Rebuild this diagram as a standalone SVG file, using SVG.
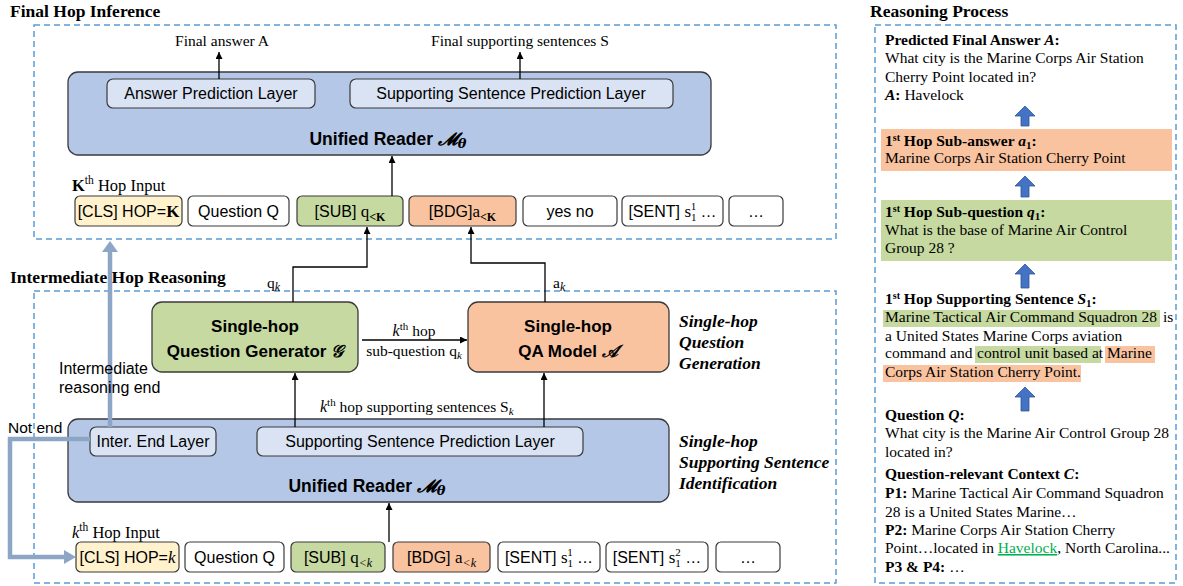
<svg xmlns="http://www.w3.org/2000/svg" width="1183" height="586" viewBox="0 0 1183 586">
<defs>
<style>
.sans{font-family:"Liberation Sans",Arial,sans-serif;fill:#000}
.serif{font-family:"Liberation Serif","Times New Roman",serif;fill:#000}
.title{font-family:"Liberation Serif","Times New Roman",serif;font-weight:bold;font-size:17.5px}
.dash{fill:none;stroke:#5B9BD5;stroke-width:1.5;stroke-dasharray:6 4}
.reader{fill:#B4C7E7;stroke:#3A3A3A;stroke-width:1.3}
.layer{fill:#DAE3F3;stroke:#3A3A3A;stroke-width:1.2}
.tok{stroke:#3A3A3A;stroke-width:1.2}
.white{fill:#FFFFFF}
.yellow{fill:#FFF2CC}
.green{fill:#C5D9A0}
.orange{fill:#F9C3A0}
.conn{fill:none;stroke:#000;stroke-width:1.3}
.thick{fill:none;stroke:#8EA6C6;stroke-width:4.5}
.barrow{fill:#4472C4;stroke:#2F5597;stroke-width:0.8}
.tok-t{font-family:"Liberation Sans",Arial,sans-serif;font-size:16px;text-anchor:middle}
.lay-t{font-family:"Liberation Sans",Arial,sans-serif;font-size:16px;text-anchor:middle}
.rd-t{font-family:"Liberation Sans",Arial,sans-serif;font-size:17.5px;font-weight:bold;text-anchor:middle}
.big-t{font-family:"Liberation Sans",Arial,sans-serif;font-size:17px;font-weight:bold;text-anchor:middle}
.math{font-family:"DejaVu Serif","Liberation Serif",serif;font-style:italic;font-weight:bold}
.bi{font-family:"Liberation Serif","Times New Roman",serif;font-style:italic;font-weight:bold;font-size:17.5px}
.rp{font-family:"Liberation Serif","Times New Roman",serif;font-size:15.5px}
.lbl{font-family:"Liberation Serif","Times New Roman",serif;font-size:15.5px}
</style>
<marker id="ah" viewBox="0 0 10 10" refX="10" refY="5" markerWidth="7" markerHeight="7" markerUnits="userSpaceOnUse" orient="auto">
<path d="M0,0 L10,5 L0,10 z" fill="#000"/>
</marker>
</defs>
<rect width="1183" height="586" fill="#FFFFFF"/>

<!-- Titles -->
<text class="title" x="10" y="17">Final Hop Inference</text>
<text class="title" x="10" y="283">Intermediate Hop Reasoning</text>
<text class="title" x="870" y="17">Reasoning Process</text>

<!-- Dashed frames -->
<rect class="dash" x="34" y="25" width="802" height="214"/>
<rect class="dash" x="34" y="291" width="802" height="292"/>
<rect class="dash" x="875" y="25" width="301" height="558"/>

<!-- ===== Final hop ===== -->
<g id="final-reader">
<rect class="reader" x="68" y="72" width="643" height="83" rx="10"/>
<text class="rd-t" x="388" y="145">Unified Reader <tspan class="math">𝓜</tspan><tspan class="math" font-size="13" dy="3">θ</tspan></text>
</g>
<g id="answer-layer">
<rect class="layer" x="107" y="79" width="208" height="29" rx="6"/>
<text class="lay-t" x="211" y="99">Answer Prediction Layer</text>
</g>
<g id="final-ss-layer">
<rect class="layer" x="350" y="79" width="323" height="29" rx="6"/>
<text class="lay-t" x="511" y="99">Supporting Sentence Prediction Layer</text>
</g>
<text class="lbl" x="222" y="46" text-anchor="middle">Final answer A</text>
<text class="lbl" x="520" y="46" text-anchor="middle">Final supporting sentences S</text>
<text class="serif" font-size="16.5" x="72" y="191"><tspan font-weight="bold">K</tspan><tspan font-size="11.5" dy="-7">th</tspan><tspan dy="7"> Hop Input</tspan></text>

<g id="K-cls"><rect class="tok yellow" x="75" y="196" width="107" height="30" rx="5"/>
<text class="tok-t" x="128.5" y="217">[CLS] HOP=<tspan class="serif" font-weight="bold" font-size="17">K</tspan></text></g>
<g id="K-question"><rect class="tok white" x="188" y="196" width="101" height="30" rx="5"/>
<text class="tok-t" x="238.5" y="217">Question Q</text></g>
<g id="K-sub"><rect class="tok green" x="297" y="196" width="106" height="30" rx="5"/>
<text class="tok-t" x="350" y="217">[SUB] <tspan class="serif" font-size="17">q</tspan><tspan class="serif" font-weight="bold" font-size="12" dy="4">&lt;K</tspan></text></g>
<g id="K-bdg"><rect class="tok orange" x="409" y="196" width="107" height="30" rx="5"/>
<text class="tok-t" x="462.5" y="217">[BDG]<tspan class="serif" font-size="17">a</tspan><tspan class="serif" font-weight="bold" font-size="12" dy="4">&lt;K</tspan></text></g>
<g id="K-yesno"><rect class="tok white" x="523" y="196" width="94" height="30" rx="5"/>
<text class="tok-t" x="570" y="217">yes no</text></g>
<g id="K-sent"><rect class="tok white" x="622" y="196" width="101" height="30" rx="5"/>
<text class="tok-t" x="672.5" y="217">[SENT] <tspan class="serif" font-size="17">s</tspan><tspan class="serif" font-size="11" dy="4">1</tspan><tspan class="serif" font-size="11" dx="-5.5" dy="-11">1</tspan><tspan dy="7"> …</tspan></text></g>
<g id="K-more"><rect class="tok white" x="729" y="196" width="54" height="30" rx="5"/>
<text class="tok-t" x="756" y="217">…</text></g>

<!-- ===== Intermediate hop ===== -->
<g id="question-generator">
<rect class="green" stroke="#3A3A3A" stroke-width="1.3" x="152" y="302" width="206" height="70" rx="10"/>
<text class="big-t" x="255" y="332">Single-hop</text>
<text class="big-t" x="255" y="357">Question Generator <tspan class="math" font-weight="normal">𝒢</tspan></text>
</g>
<g id="qa-model">
<rect class="orange" stroke="#3A3A3A" stroke-width="1.3" x="468" y="302" width="201" height="70" rx="10"/>
<text class="big-t" x="568" y="332">Single-hop</text>
<text class="big-t" x="568" y="357">QA Model <tspan class="math" font-weight="normal">𝒜</tspan></text>
</g>
<g id="inter-reader">
<rect class="reader" x="68" y="419" width="601" height="83" rx="10"/>
<text class="rd-t" x="367" y="492">Unified Reader <tspan class="math">𝓜</tspan><tspan class="math" font-size="13" dy="3">θ</tspan></text>
</g>
<g id="inter-end-layer">
<rect class="layer" x="90" y="427" width="126" height="29" rx="6"/>
<text class="lay-t" x="153" y="447">Inter. End Layer</text>
</g>
<g id="inter-ss-layer">
<rect class="layer" x="257" y="427" width="326" height="29" rx="6"/>
<text class="lay-t" x="420" y="447">Supporting Sentence Prediction Layer</text>
</g>

<text class="bi" x="679" y="327">Single-hop</text>
<text class="bi" x="679" y="348">Question</text>
<text class="bi" x="679" y="369">Generation</text>
<text class="bi" x="679" y="447">Single-hop</text>
<text class="bi" x="679" y="468">Supporting Sentence</text>
<text class="bi" x="679" y="489">Identification</text>

<text class="serif" font-size="16.5" x="72" y="538"><tspan font-style="italic">k</tspan><tspan font-size="11.5" dy="-7">th</tspan><tspan dy="7"> Hop Input</tspan></text>

<g id="k-cls"><rect class="tok yellow" x="76" y="542" width="103" height="30" rx="5"/>
<text class="tok-t" x="127.5" y="563">[CLS] HOP=<tspan class="serif" font-style="italic" font-size="17">k</tspan></text></g>
<g id="k-question"><rect class="tok white" x="185" y="542" width="99" height="30" rx="5"/>
<text class="tok-t" x="234.5" y="563">Question Q</text></g>
<g id="k-sub"><rect class="tok green" x="291" y="542" width="94" height="30" rx="5"/>
<text class="tok-t" x="338" y="563">[SUB] <tspan class="serif" font-size="17">q</tspan><tspan class="serif" font-style="italic" font-size="12" dy="4">&lt;k</tspan></text></g>
<g id="k-bdg"><rect class="tok orange" x="393" y="542" width="97" height="30" rx="5"/>
<text class="tok-t" x="441.5" y="563">[BDG] <tspan class="serif" font-size="17">a</tspan><tspan class="serif" font-style="italic" font-size="12" dy="4">&lt;k</tspan></text></g>
<g id="k-sent1"><rect class="tok white" x="498" y="542" width="102" height="30" rx="5"/>
<text class="tok-t" x="549" y="563">[SENT] <tspan class="serif" font-size="17">s</tspan><tspan class="serif" font-size="11" dy="4">1</tspan><tspan class="serif" font-size="11" dx="-5.5" dy="-11">1</tspan><tspan dy="7"> …</tspan></text></g>
<g id="k-sent2"><rect class="tok white" x="606" y="542" width="102" height="30" rx="5"/>
<text class="tok-t" x="657" y="563">[SENT] <tspan class="serif" font-size="17">s</tspan><tspan class="serif" font-size="11" dy="4">1</tspan><tspan class="serif" font-size="11" dx="-5.5" dy="-11">2</tspan><tspan dy="7"> …</tspan></text></g>
<g id="k-more"><rect class="tok white" x="716" y="542" width="64" height="30" rx="5"/>
<text class="tok-t" x="748" y="563">…</text></g>

<!-- Connectors -->
<g id="connectors">
<line class="conn" x1="219" y1="79" x2="219" y2="52" marker-end="url(#ah)"/>
<line class="conn" x1="520" y1="79" x2="520" y2="52" marker-end="url(#ah)"/>
<line class="conn" x1="392" y1="196" x2="392" y2="156" marker-end="url(#ah)"/>
<polyline class="conn" points="293,302 293,267 367,267 367,227" marker-end="url(#ah)"/>
<polyline class="conn" points="545,302 545,263 471,263 471,227" marker-end="url(#ah)"/>
<line class="conn" x1="362" y1="340" x2="467" y2="340" marker-end="url(#ah)"/>
<line class="conn" x1="295" y1="427" x2="295" y2="373" marker-end="url(#ah)"/>
<line class="conn" x1="544" y1="427" x2="544" y2="373" marker-end="url(#ah)"/>
<line class="conn" x1="389" y1="542" x2="389" y2="503" marker-end="url(#ah)"/>
<polyline class="thick" points="110,427 110,251"/>
<polygon points="102,252 118,252 110,241" fill="#8EA6C6"/>
<polyline class="thick" points="90,439 10,439 10,557 65,557"/>
<polygon points="64,550 64,564 76,557" fill="#8EA6C6"/>
</g>

<!-- Connector labels -->
<text class="lbl" x="267" y="288">q<tspan font-style="italic" font-size="12" dy="3">k</tspan></text>
<text class="lbl" x="553" y="288">a<tspan font-style="italic" font-size="12" dy="3">k</tspan></text>
<text class="lbl" x="414" y="336" text-anchor="middle"><tspan font-style="italic" font-size="16">k</tspan><tspan font-size="11" dy="-6">th</tspan><tspan dy="6"> hop</tspan></text>
<text class="lbl" x="414" y="356" text-anchor="middle">sub-question q<tspan font-style="italic" font-size="11" dy="3">k</tspan></text>
<text class="lbl" x="320" y="412"><tspan font-style="italic" font-size="16">k</tspan><tspan font-size="11" dy="-6">th</tspan><tspan dy="6"> hop supporting sentences S</tspan><tspan font-style="italic" font-size="11" dy="3">k</tspan></text>
<text class="sans" font-size="16" x="59" y="374">Intermediate</text>
<text class="sans" font-size="16" x="59" y="393">reasoning end</text>
<text class="sans" font-size="15.5" x="8" y="433">Not end</text>

<!-- ===== Reasoning process panel ===== -->
<g id="rp-final">
<text class="rp" x="885" y="45" font-weight="bold">Predicted Final Answer <tspan font-style="italic">A</tspan>:</text>
<text class="rp" x="885" y="63">What city is the Marine Corps Air Station</text>
<text class="rp" x="885" y="82">Cherry Point located in?</text>
<text class="rp" x="885" y="100"><tspan font-weight="bold" font-style="italic">A</tspan><tspan font-weight="bold">:</tspan> Havelock</text>
</g>
<g id="rp-subanswer">
<rect class="orange" x="881" y="129" width="291" height="42"/>
<text class="rp" x="885" y="146" font-weight="bold">1<tspan font-size="10" dy="-5">st</tspan><tspan dy="5"> Hop Sub-answer </tspan><tspan font-style="italic">a</tspan><tspan font-size="11" dy="3">1</tspan><tspan dy="-3">:</tspan></text>
<text class="rp" x="885" y="163">Marine Corps Air Station Cherry Point</text>
</g>
<g id="rp-subquestion">
<rect class="green" x="881" y="200" width="291" height="61"/>
<text class="rp" x="885" y="217" font-weight="bold">1<tspan font-size="10" dy="-5">st</tspan><tspan dy="5"> Hop Sub-question </tspan><tspan font-style="italic">q</tspan><tspan font-size="11" dy="3">1</tspan><tspan dy="-3">:</tspan></text>
<text class="rp" x="885" y="235">What is the base of Marine Air Control</text>
<text class="rp" x="885" y="253">Group 28 ?</text>
</g>
<g id="rp-support">
<rect class="green" x="883" y="310" width="277" height="17"/>
<rect class="green" x="975" y="346" width="126" height="17"/>
<rect class="orange" x="1105" y="346" width="50" height="17"/>
<rect class="orange" x="883" y="365" width="198" height="17"/>
<text class="rp" x="885" y="304" font-weight="bold">1<tspan font-size="10" dy="-5">st</tspan><tspan dy="5"> Hop Supporting Sentence </tspan><tspan font-style="italic">S</tspan><tspan font-size="11" dy="3">1</tspan><tspan dy="-3">:</tspan></text>
<text class="rp" x="885" y="322">Marine Tactical Air Command Squadron 28</text>
<text class="rp" x="1163" y="322">is</text>
<text class="rp" x="885" y="341">a United States Marine Corps aviation</text>
<text class="rp" x="885" y="358">command and</text>
<text class="rp" x="977" y="358">control unit based at</text>
<text class="rp" x="1107" y="358">Marine</text>
<text class="rp" x="885" y="377">Corps Air Station Cherry Point.</text>
</g>
<g id="rp-question">
<text class="rp" x="885" y="420" font-weight="bold">Question <tspan font-style="italic">Q</tspan>:</text>
<text class="rp" x="885" y="438">What city is the Marine Air Control Group 28</text>
<text class="rp" x="885" y="457">located in?</text>
</g>
<g id="rp-context">
<text class="rp" x="885" y="479" font-weight="bold">Question-relevant Context <tspan font-style="italic">C</tspan>:</text>
<text class="rp" x="885" y="498"><tspan font-weight="bold">P1:</tspan> Marine Tactical Air Command Squadron</text>
<text class="rp" x="885" y="517">28 is a United States Marine…</text>
<text class="rp" x="885" y="535"><tspan font-weight="bold">P2:</tspan> Marine Corps Air Station Cherry</text>
<text class="rp" x="885" y="553">Point…located in <tspan fill="#00B050" text-decoration="underline">Havelock</tspan>, North Carolina...</text>
<text class="rp" x="885" y="572" font-weight="bold">P3 &amp; P4: <tspan font-weight="normal">…</tspan></text>
</g>
<g id="rp-arrows">
<polygon class="barrow" points="1025,106 1035,116 1029,116 1029,126 1021,126 1021,116 1015,116"/>
<polygon class="barrow" points="1025,176 1035,186 1029,186 1029,197 1021,197 1021,186 1015,186"/>
<polygon class="barrow" points="1025,264 1035,274 1029,274 1029,288 1021,288 1021,274 1015,274"/>
<polygon class="barrow" points="1025,387 1035,397 1029,397 1029,411 1021,411 1021,397 1015,397"/>
</g>
</svg>
